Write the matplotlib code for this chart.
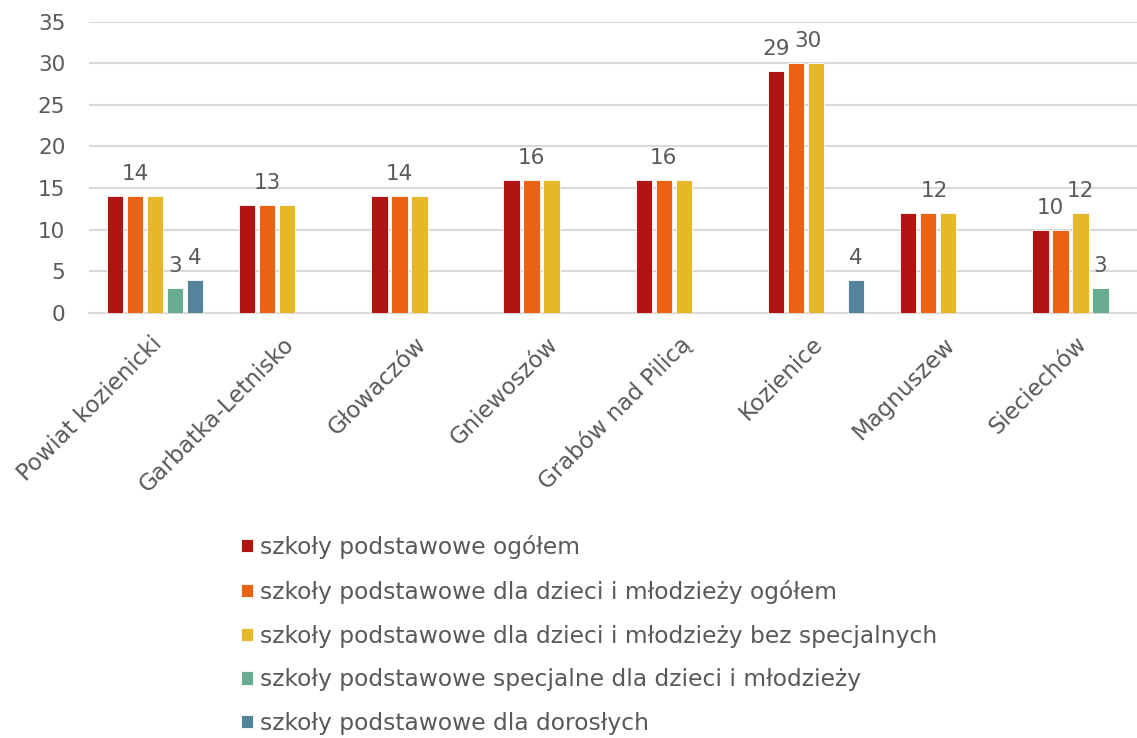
import matplotlib
matplotlib.use("Agg")
import matplotlib.pyplot as plt
import matplotlib.transforms as mtransforms
import numpy as np

plt.rcParams['font.family'] = ['DejaVu Sans']

categories = ["Powiat kozienicki", "Garbatka-Letnisko", "Głowaczów", "Gniewoszów",
              "Grabów nad Pilicą", "Kozienice", "Magnuszew", "Sieciechów"]
series_names = ["szkoły podstawowe ogółem",
                "szkoły podstawowe dla dzieci i młodzieży ogółem",
                "szkoły podstawowe dla dzieci i młodzieży bez specjalnych",
                "szkoły podstawowe specjalne dla dzieci i młodzieży",
                "szkoły podstawowe dla dorosłych"]
ogolem =          [14, 13, 14, 16, 16, 29, 12, 10]
dzieci_ogolem =   [14, 13, 14, 16, 16, 30, 12, 10]
dzieci_bez_spec = [14, 13, 14, 16, 16, 30, 12, 12]
specjalne =       [3, 0, 0, 0, 0, 0, 0, 3]
dorosli =         [4, 0, 0, 0, 0, 4, 0, 0]
series = [ogolem, dzieci_ogolem, dzieci_bez_spec, specjalne, dorosli]
colors = ["#B01513", "#EA6312", "#E6B729", "#6AAC90", "#54849A"]

# which data labels are shown: (category index, series index, horizontal shift in bar steps)
shown_labels = [(0, 1, 0), (0, 3, 0), (0, 4, 0), (1, 1, 0), (2, 1, 0), (3, 1, 0),
                (4, 1, 0), (5, 0, 0), (5, 1, 0.6), (5, 4, 0), (6, 1, 0.3),
                (7, 1, -0.5), (7, 2, 0), (7, 3, 0)]

W, H = 1137, 738
fig = plt.figure(figsize=(W / 100, H / 100), dpi=100)
ax = fig.add_axes([88.9 / W, 1 - 313 / H, 1057.6 / W, (313 - 21.5) / H])

text_color = "#595959"
grid_color = "#D9D9D9"
x = np.arange(len(categories))
step = 20 / 132.2
width = 16.5 / 132.2

handles = []
for i, (vals, c) in enumerate(zip(series, colors)):
    v = np.array(vals, dtype=float)
    v[v == 0] = np.nan
    b = ax.bar(x + (i - 2) * step, v, width=width, color=c, edgecolor="white",
               linewidth=0.6, label=series_names[i], zorder=3)
    handles.append(b)

for ci, si, sh in shown_labels:
    val = series[si][ci]
    ax.annotate(str(val), (x[ci] + (si - 2 + sh) * step, val), xytext=(0, 11.5),
                textcoords="offset points", ha="center", va="baseline",
                fontsize=15.5, color=text_color, zorder=4)

ax.set_ylim(0, 35)
ax.set_xlim(-0.5, len(categories) - 0.5)
ax.set_yticks(range(0, 36, 5))
ax.yaxis.grid(True, color=grid_color, linewidth=1.5, zorder=0)
ax.set_axisbelow(True)
for s in ["left", "right", "top"]:
    ax.spines[s].set_visible(False)
ax.spines["bottom"].set_color(grid_color)
ax.spines["bottom"].set_linewidth(1.5)
ax.tick_params(axis="y", length=0, pad=17, labelsize=15.5, labelcolor=text_color)
ax.tick_params(axis="x", length=0, pad=14, labelsize=16.5, labelcolor=text_color)
ax.set_xticks(x)
ax.set_xticklabels(categories, rotation=45, ha="right", va="top", rotation_mode="anchor")
offset = mtransforms.ScaledTranslation(-5 / 100, 0, fig.dpi_scale_trans)
for lab in ax.get_xticklabels():
    lab.set_transform(lab.get_transform() + offset)

fig.legend(handles=handles, labels=series_names, loc="upper left",
           bbox_to_anchor=(241 / W, 1 - 535 / H), frameon=False, fontsize=16.8,
           labelcolor=text_color, handlelength=0.5, handleheight=0.5,
           handletextpad=0.3, labelspacing=0.89, borderpad=0, borderaxespad=0)

fig.savefig("out.png", dpi=100)
